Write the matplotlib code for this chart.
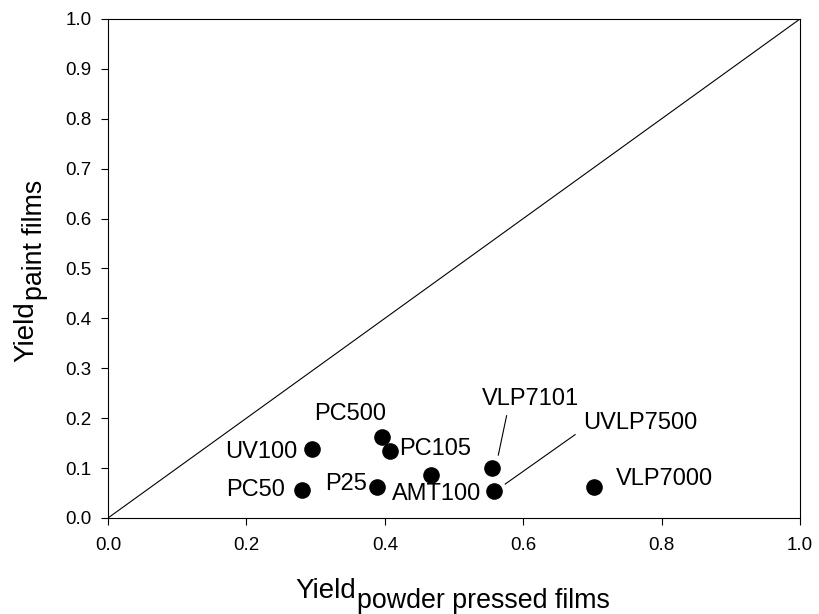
import numpy as np
import matplotlib
matplotlib.use('Agg')
import matplotlib.pyplot as plt

plt.rcParams['font.family'] = ['Liberation Sans', 'DejaVu Sans']

# samples: (powder pressed yield, paint film yield)
names = ['PC50', 'UV100', 'P25', 'PC500', 'PC105', 'AMT100', 'VLP7101', 'UVLP7500', 'VLP7000']
x_powder = [0.281, 0.295, 0.389, 0.396, 0.407, 0.467, 0.555, 0.558, 0.703]
y_paint = [0.056, 0.138, 0.062, 0.162, 0.135, 0.086, 0.100, 0.054, 0.063]

# label positions (data coords)
lab_x = [0.213, 0.222, 0.344, 0.350, 0.472, 0.475, 0.611, 0.769, 0.804]
lab_y = [0.056, 0.133, 0.069, 0.209, 0.138, 0.048, 0.238, 0.191, 0.078]
leader = {'VLP7101': (0.576, 0.205, 0.564, 0.126),
          'UVLP7500': (0.675, 0.167, 0.574, 0.068)}

fig = plt.figure(figsize=(8.19, 6.14), dpi=100)
ax = fig.add_axes([0.1319, 0.1564, 0.8449, 0.8127])

ax.plot([0, 1], [0, 1], color='black', lw=0.8)
ax.scatter(x_powder, y_paint, s=120, color='black', zorder=3)

for n, lx, ly in zip(names, lab_x, lab_y):
    ax.text(lx, ly, n, fontsize=17, ha='center', va='center')
for n in leader:
    x1, y1, x2, y2 = leader[n]
    ax.plot([x1, x2], [y1, y2], color='black', lw=0.8)

ax.set_xlim(0, 1)
ax.set_ylim(0, 1)
ax.set_xticks(np.arange(0, 1.01, 0.2))
ax.set_yticks(np.arange(0, 1.01, 0.1))
ax.xaxis.set_major_formatter(plt.FormatStrFormatter('%.1f'))
ax.yaxis.set_major_formatter(plt.FormatStrFormatter('%.1f'))
ax.tick_params(direction='out', length=5, width=0.8, labelsize=13.5)
ax.tick_params(axis='x', pad=9)
ax.tick_params(axis='y', pad=7)
for s in ax.spines.values():
    s.set_linewidth(0.8)

# axis titles with large subscripts, built from two texts each
fig.text(356 / 819, 1 - 598.5 / 614, 'Yield', fontsize=20, ha='right', va='baseline')
fig.text(357 / 819, 1 - 607.5 / 614, 'powder pressed films', fontsize=19.3, ha='left', va='baseline')
fig.text(33 / 819, 1 - 301.5 / 614, 'Yield', fontsize=20, rotation=90,
         rotation_mode='anchor', ha='right', va='baseline')
fig.text(42.5 / 819, 1 - 300 / 614, 'paint films', fontsize=19.3, rotation=90,
         rotation_mode='anchor', ha='left', va='baseline')

fig.savefig('out.png', dpi=100)
